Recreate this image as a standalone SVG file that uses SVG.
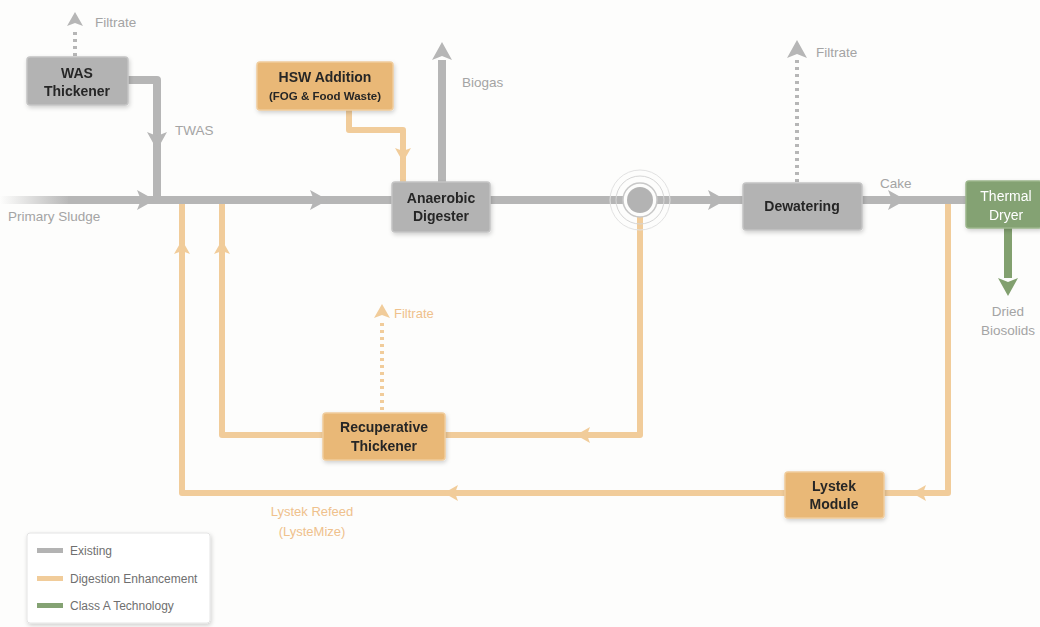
<svg xmlns="http://www.w3.org/2000/svg" width="1040" height="627" viewBox="0 0 1040 627">
<style>
.bg{fill:#fdfdfc}
.gl{fill:none;stroke:#b6b6b6;stroke-width:8;stroke-linejoin:round}
.ol{fill:none;stroke:#f1cc9a;stroke-width:6;stroke-linejoin:round}
.gnl{fill:none;stroke:#82a06f;stroke-width:8}
.gdot{fill:none;stroke:#b6b6b6;stroke-width:4;stroke-dasharray:3 4}
.odot{fill:none;stroke:#f1cc9a;stroke-width:4;stroke-dasharray:3 4}
.ga{fill:#b6b6b6}
.oa{fill:#f1cc9a}
.gna{fill:#82a06f}
.gbox{fill:#b3b3b3;stroke:#c4c4c4;stroke-width:1.5}
.obox{fill:#e9b877;stroke:#f0cc9c;stroke-width:1.5}
.gnbox{fill:#84a273;stroke:#9ab58a;stroke-width:1.5}
.bt{font-family:"Liberation Sans",Arial,sans-serif;font-weight:bold;font-size:14px;fill:#262626;text-anchor:middle}
.bts{font-family:"Liberation Sans",Arial,sans-serif;font-weight:bold;font-size:11.5px;fill:#262626;text-anchor:middle}
.wt{font-family:"Liberation Sans",Arial,sans-serif;font-size:14px;fill:#ffffff;text-anchor:middle}
.lb{font-family:"Liberation Sans",Arial,sans-serif;font-size:13.5px;fill:#a4a4a4}
.olb{font-family:"Liberation Sans",Arial,sans-serif;font-size:13px;fill:#efc18c}
.lg{font-family:"Liberation Sans",Arial,sans-serif;font-size:12px;fill:#6f6f6f}
</style>
<defs>
<linearGradient id="fade" x1="0" y1="0" x2="1" y2="0">
<stop offset="0" stop-color="#b6b6b6" stop-opacity="0"/>
<stop offset="1" stop-color="#b6b6b6" stop-opacity="1"/>
</linearGradient>
<path id="ah" d="M-18,-10 L0,0 L-18,10 L-14,0 Z"/>
<path id="ahs" d="M-14,-8 L0,0 L-14,8 L-11,0 Z"/>
<filter id="sh" x="-10%" y="-10%" width="130%" height="140%">
<feDropShadow dx="1" dy="2" stdDeviation="2" flood-color="#000" flood-opacity="0.18"/>
</filter>
</defs>
<rect class="bg" x="0" y="0" width="1040" height="627"/>

<g id="connectors">
<rect x="0" y="196" width="70" height="8" fill="url(#fade)"/>
<path class="gl" d="M68,200 H966"/>
<use href="#ah" class="ga" transform="translate(155,200)"/>
<use href="#ah" class="ga" transform="translate(328,200)"/>
<use href="#ah" class="ga" transform="translate(726,200)"/>
<use href="#ah" class="ga" transform="translate(906,200)"/>
<path class="gl" d="M128,80 H157 V200"/>
<use href="#ah" class="ga" transform="translate(157,150) rotate(90)"/>
<path class="gdot" d="M75,56 V28"/>
<use href="#ahs" class="ga" transform="translate(75,12) rotate(-90)"/>
<path class="gl" d="M442,184 V60"/>
<use href="#ah" class="ga" transform="translate(442,42) rotate(-90)"/>
<path class="gdot" d="M797,182 V58"/>
<use href="#ah" class="ga" transform="translate(797,40) rotate(-90)"/>
<path class="ol" d="M349,110 V130 H403 V184"/>
<use href="#ahs" class="oa" transform="translate(403,162) rotate(90)"/>
<path class="ol" d="M640,213 V435 H222 V204"/>
<use href="#ahs" class="oa" transform="translate(576,435) rotate(180)"/>
<use href="#ahs" class="oa" transform="translate(222,240) rotate(-90)"/>
<path class="odot" d="M382,410 V320"/>
<use href="#ahs" class="oa" transform="translate(382,304) rotate(-90)"/>
<path class="ol" d="M948,204 V493 H182 V204"/>
<use href="#ahs" class="oa" transform="translate(912,493) rotate(180)"/>
<use href="#ahs" class="oa" transform="translate(444,493) rotate(180)"/>
<use href="#ahs" class="oa" transform="translate(182,240) rotate(-90)"/>
<path class="gnl" d="M1008,226 V278"/>
<use href="#ah" class="gna" transform="translate(1008,296) rotate(90)"/>
<g id="device">
<circle cx="640" cy="200" r="30" fill="none" stroke="#e2e2e2" stroke-width="1"/>
<circle cx="640" cy="200" r="24" fill="none" stroke="#d6d6d6" stroke-width="1"/>
<circle cx="640" cy="200" r="17" fill="#fdfdfc" stroke="#c8c8c8" stroke-width="1.5"/>
<circle cx="640" cy="200" r="13" fill="#b3b3b3"/>
</g>
</g>

<g id="was-thickener" filter="url(#sh)">
<rect class="gbox" x="27" y="57" width="101" height="48" rx="3"/>
<text class="bt" x="77" y="78">WAS</text>
<text class="bt" x="77" y="96">Thickener</text>
</g>
<g id="hsw-addition" filter="url(#sh)">
<rect class="obox" x="257" y="62" width="136" height="48" rx="3"/>
<text class="bt" x="325" y="82">HSW Addition</text>
<text class="bts" x="325" y="100">(FOG &amp; Food Waste)</text>
</g>
<g id="anaerobic-digester" filter="url(#sh)">
<rect class="gbox" x="392" y="182" width="98" height="50" rx="3"/>
<text class="bt" x="441" y="203">Anaerobic</text>
<text class="bt" x="441" y="221">Digester</text>
</g>
<g id="dewatering" filter="url(#sh)">
<rect class="gbox" x="743" y="183" width="119" height="47" rx="3"/>
<text class="bt" x="802" y="211">Dewatering</text>
</g>
<g id="thermal-dryer" filter="url(#sh)">
<rect class="gnbox" x="966" y="181" width="76" height="47" rx="3"/>
<text class="wt" x="1006" y="201">Thermal</text>
<text class="wt" x="1006" y="220">Dryer</text>
</g>
<g id="recuperative-thickener" filter="url(#sh)">
<rect class="obox" x="323" y="413" width="122" height="47" rx="3"/>
<text class="bt" x="384" y="432">Recuperative</text>
<text class="bt" x="384" y="451">Thickener</text>
</g>
<g id="lystek-module" filter="url(#sh)">
<rect class="obox" x="785" y="472" width="99" height="46" rx="3"/>
<text class="bt" x="834" y="491">Lystek</text>
<text class="bt" x="834" y="509">Module</text>
</g>

<g id="labels">
<text class="lb" x="95" y="27">Filtrate</text>
<text class="lb" x="175" y="135">TWAS</text>
<text class="lb" x="462" y="87">Biogas</text>
<text class="lb" x="816" y="57">Filtrate</text>
<text class="lb" x="880" y="188">Cake</text>
<text class="lb" x="8" y="221">Primary Sludge</text>
<text class="lb" x="1008" y="316" text-anchor="middle">Dried</text>
<text class="lb" x="1008" y="335" text-anchor="middle">Biosolids</text>
<text class="olb" x="394" y="318">Filtrate</text>
<text class="olb" x="312" y="516" text-anchor="middle">Lystek Refeed</text>
<text class="olb" x="312" y="536" text-anchor="middle">(LysteMize)</text>
</g>

<g id="legend">
<rect x="27" y="533" width="183" height="90" fill="#ffffff" stroke="#e4e4e4" stroke-width="1" rx="3" filter="url(#sh)"/>
<rect x="37" y="548" width="26" height="5" fill="#b3b3b3"/>
<text class="lg" x="70" y="555">Existing</text>
<rect x="37" y="576" width="26" height="5" fill="#f1cc9a"/>
<text class="lg" x="70" y="583">Digestion Enhancement</text>
<rect x="37" y="603" width="26" height="5" fill="#84a273"/>
<text class="lg" x="70" y="610">Class A Technology</text>
</g>
</svg>
